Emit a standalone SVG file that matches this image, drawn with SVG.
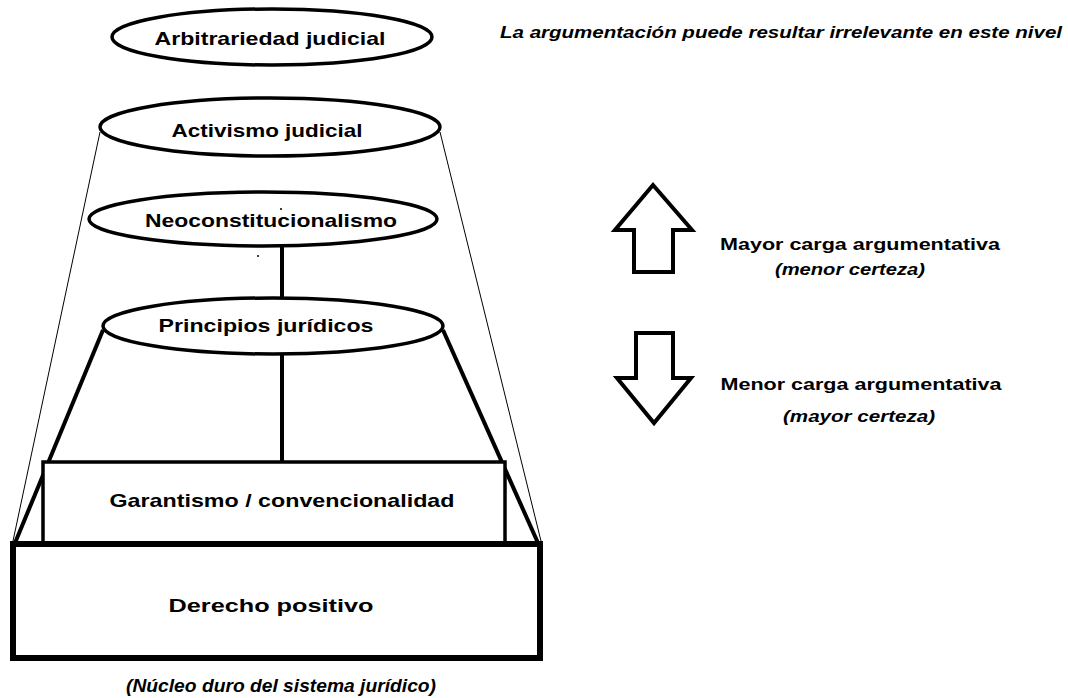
<svg xmlns="http://www.w3.org/2000/svg" width="1068" height="698" viewBox="0 0 1068 698">
<style>
.e{fill:#fff;stroke:#000;stroke-width:3.5}
.t{font-family:"Liberation Sans",Arial,sans-serif;font-weight:bold;font-size:19px;fill:#000;text-anchor:middle}
.s{font-size:16px}
.i{font-style:italic}
.thin{stroke:#000;stroke-width:1;fill:none}
.thick{stroke:#000;stroke-width:4;fill:none}
.arrow{fill:#fff;stroke:#000;stroke-width:4;stroke-linejoin:miter}
</style>
<rect width="1068" height="698" fill="#fff"/>
<g id="connectors">
<line class="thin" x1="100" y1="132" x2="13" y2="541"/>
<line class="thin" x1="440" y1="132" x2="541" y2="541"/>
<line class="thick" x1="103" y1="330" x2="15" y2="543"/>
<line class="thick" x1="443" y1="330" x2="538" y2="543"/>
<line class="thick" x1="282" y1="245" x2="282" y2="299"/>
<line class="thick" x1="282" y1="355" x2="282" y2="462"/>
</g>
<g id="arbitrariedad">
<ellipse class="e" cx="272" cy="37" rx="160" ry="28"/>
<text class="t" x="270" y="45" textLength="231" lengthAdjust="spacingAndGlyphs">Arbitrariedad judicial</text>
</g>
<g id="activismo">
<ellipse class="e" cx="270" cy="127" rx="170" ry="29"/>
<text class="t" x="267" y="137" textLength="191" lengthAdjust="spacingAndGlyphs">Activismo judicial</text>
</g>
<g id="neoconstitucionalismo">
<ellipse class="e" cx="263" cy="219" rx="174" ry="27"/>
<text class="t" x="271" y="227" textLength="252" lengthAdjust="spacingAndGlyphs">Neoconstitucionalismo</text>
<circle cx="281" cy="209" r="1" fill="#000"/>
<circle cx="258" cy="256" r="1" fill="#000"/>
</g>
<g id="principios">
<ellipse class="e" cx="273" cy="326" rx="170" ry="28"/>
<text class="t" x="266" y="332" textLength="215" lengthAdjust="spacingAndGlyphs">Principios jurídicos</text>
</g>
<g id="garantismo">
<rect x="43" y="462" width="462" height="82" fill="#fff" stroke="#000" stroke-width="3.5"/>
<text class="t" x="282" y="507" textLength="345" lengthAdjust="spacingAndGlyphs">Garantismo / convencionalidad</text>
</g>
<g id="derecho">
<rect x="13" y="544" width="527" height="114" fill="#fff" stroke="#000" stroke-width="6"/>
<text class="t" x="271" y="612" textLength="205" lengthAdjust="spacingAndGlyphs">Derecho positivo</text>
</g>
<text class="t i" x="281" y="692" textLength="310" lengthAdjust="spacingAndGlyphs">(Núcleo duro del sistema jurídico)</text>
<text class="t i s" x="781" y="38" textLength="562" lengthAdjust="spacingAndGlyphs">La argumentación puede resultar irrelevante en este nivel</text>
<g id="arrow-up">
<polygon class="arrow" points="653,185 692,230 673,230 673,272 634,272 634,230 615,230"/>
</g>
<g id="arrow-down">
<polygon class="arrow" points="636,333 673,333 673,378 691,378 654,423 617,378 636,378"/>
</g>
<text class="t s" x="860" y="250" textLength="280" lengthAdjust="spacingAndGlyphs">Mayor carga argumentativa</text>
<text class="t i s" x="850" y="275" textLength="150" lengthAdjust="spacingAndGlyphs">(menor certeza)</text>
<text class="t s" x="861" y="390" textLength="281" lengthAdjust="spacingAndGlyphs">Menor carga argumentativa</text>
<text class="t i s" x="859" y="422" textLength="152" lengthAdjust="spacingAndGlyphs">(mayor certeza)</text>
</svg>
